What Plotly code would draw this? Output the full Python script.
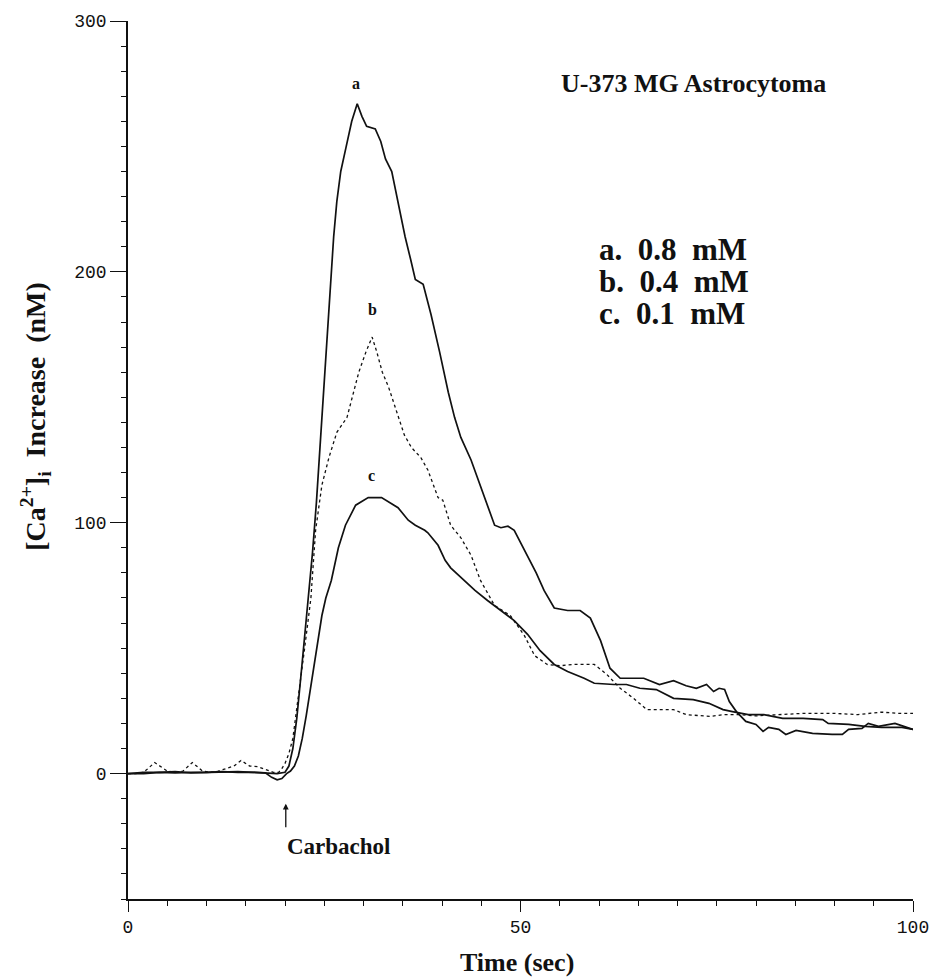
import plotly.graph_objects as go

# ---- data ----
a_t = [0, 2, 4, 6, 8, 10, 12, 14, 16, 18, 19, 20, 20.5, 21, 21.5, 22, 22.5, 23, 23.5, 24, 24.6, 25.2, 25.8,
       26.2, 26.6, 27.1, 27.8, 28.5, 29.2, 29.8, 30.4, 31.5, 32.2, 32.8, 33.6, 34.4, 35.3, 36.0, 36.6, 37.6,
       38.6, 39.7, 40.8, 41.6, 42.4, 43.7, 44.6, 45.6, 46.7, 47.5, 48.4, 49.2, 50.0, 50.9, 52.0, 53, 54.3,
       56, 57.6, 58.9, 60.2, 61.4, 62.7, 64, 65.7, 67.7, 69.5, 71.1, 72.4, 73.7, 74.6, 75.3, 76, 76.6,
       77.5, 78.7, 80, 80.9, 81.6, 82.9, 83.8, 85.1, 87.2, 89.7, 91, 91.8, 93.5, 94.3, 95.6, 97.7, 99, 100]
a_v = [0, 0, 0.5, 0.3, 0.5, 0.5, 0.8, 0.5, 0.5, 0.3, 0, 0.5, 3, 10, 22, 38, 54, 70, 88, 108, 136, 165, 195,
       214, 228, 240, 250, 260, 267, 262, 258, 257, 252, 245, 240, 228, 214, 205, 197, 195,
       183, 168, 152, 142, 134, 125, 117, 109, 99, 98, 98.6, 97, 92, 87, 80, 73, 66,
       65, 65, 62, 53, 42, 38, 38, 38, 35.5, 37, 35, 34, 35.5, 32.7, 34, 33.5, 28.7,
       24.7, 20.8, 19.6, 16.8, 18.4, 17.6, 15.6, 17.2, 16, 15.6, 15.6, 17.6, 18, 20, 18.8, 20, 18.8, 17.6]

b_t = [0, 1, 2, 3.4, 5, 6, 7, 8.2, 9.5, 10.5, 11.5, 12.5, 13.5, 14.4, 15.5, 16.5, 17.5, 18.5, 19.2, 19.6,
       20, 20.5, 21, 21.5, 22, 22.5, 23, 23.3, 23.9, 24.7, 25.6, 26.6, 27.9, 28.6, 29.4, 30.3, 31.1, 31.7,
       32.4, 33.2, 34.4, 35.2, 36.1, 37.3, 38.2, 39.5, 40.1, 41.1, 42.4, 43.7, 44.9, 46.7, 48.7, 50.5,
       51.8, 53.4, 55.1, 56.8, 59.4, 61, 62.7, 64.4, 66.1, 69.5, 71.1, 74.1, 76, 78, 80, 83, 86, 90,
       93, 96, 98, 100]
b_v = [0, 0, 0.5, 4.4, 1, 0.5, 1, 4.4, 1, 0.5, 1, 2, 3, 5.2, 3, 2.8, 1.5, 0.5, 0.5, 2,
       4, 8, 14, 25, 38, 50, 62, 70, 97, 115, 126, 136, 142, 150, 160, 168, 174, 168,
       160, 154, 142, 135, 130, 126, 121, 110, 109, 99, 94, 87, 77, 67, 63, 55,
       47, 43.5, 43, 43.5, 43.5, 39.5, 34, 30, 25.5, 25.5, 23.5, 22.8, 23.5, 23.5, 23, 23.5, 24, 24,
       23.5, 24.5, 24, 24]

c_t = [0, 2, 4, 6, 8, 10, 12, 14, 16, 17.5, 18.3, 19, 19.6, 20.2, 20.7, 21.2, 21.7, 22.2, 22.7, 23.2,
       23.7, 24.2, 24.7, 25.2, 25.9, 26.8, 27.7, 29, 30.6, 32.3, 33.4, 34.4, 35.7, 36.6, 37.8, 38.2,
       39.5, 40.4, 41.1, 42.9, 44.2, 45.8, 47.5, 49.2, 50.9, 52.5, 54.3, 56, 58.1, 59.4, 61.9, 63.5,
       65.2, 67.3, 69.5, 72, 74, 75.8, 77, 79, 81, 83.4, 86, 88.5, 89.2, 91.8, 93.9, 96, 98.6, 100]
c_v = [0, 0.5, 0.5, 0.8, 0.3, 0.5, 0.5, 0.8, 0.5, 0.3, -1.5, -2.5, -2, 0, 1, 3, 7, 14, 23, 33,
       44, 54, 63, 70, 77, 90, 99, 107, 110, 110, 108, 106, 101, 99, 97, 96,
       91, 85, 82, 77, 73, 69, 65, 61, 55.5, 49, 43.5, 40.7, 38, 36, 35.5, 35.5,
       34, 33.5, 30, 29.5, 28, 25.5, 24.7, 23.5, 23.5, 22, 22, 21.5, 20, 19.6, 18.8, 18.4, 18.4, 17.6]

x_ticks = [0, 50, 100]
y_ticks = [0, 100, 200, 300]
curve_labels = ["a", "b", "c"]
legend_lines = ["a.  0.8  mM", "b.  0.4  mM", "c.  0.1  mM"]
title_text = "U-373 MG Astrocytoma"
stim_text = "Carbachol"
x_title = "Time (sec)"
y_title = "[Ca<sup>2+</sup>]<sub>i</sub>  Increase  (nM)"

serif = "Liberation Serif, Times New Roman, serif"
mono = "Liberation Mono, Courier New, monospace"
ink = "#111111"

fig = go.Figure()
fig.add_trace(go.Scatter(x=a_t, y=a_v, mode="lines", line=dict(color=ink, width=1.7), name="a"))
fig.add_trace(go.Scatter(x=b_t, y=b_v, mode="lines", line=dict(color=ink, width=1.3, dash="dot"), name="b"))
fig.add_trace(go.Scatter(x=c_t, y=c_v, mode="lines", line=dict(color=ink, width=1.7), name="c"))

ann = []


def label(x, y, text, size, ref="data", **kw):
    d = dict(x=x, y=y, text=text, showarrow=False, xanchor="center", yanchor="middle",
             font=dict(family=serif, size=size, color=ink))
    if ref == "data":
        d.update(xref="x", yref="y")
    else:
        d.update(xref="paper", yref="paper")
    d.update(kw)
    ann.append(d)


# curve letters above each peak
label(29.0, 275, "<b>" + curve_labels[0] + "</b>", 16)
label(31.1, 185, "<b>" + curve_labels[1] + "</b>", 16)
label(31.0, 119, "<b>" + curve_labels[2] + "</b>", 16)
# title and concentration key
label(72.0, 275, "<b>" + title_text + "</b>", 26)
for i, s in enumerate(legend_lines):
    label(59.7, 209 - i * 12.8, "<b>" + s + "</b>", 31, xanchor="left")
# stimulus marker
label(20.0, -29, "<b>" + stim_text + "</b>", 23, xanchor="left")
ann.append(dict(x=20.1, y=-12, ax=20.1, ay=-22, xref="x", yref="y", axref="x", ayref="y",
                text="", showarrow=True, arrowhead=2, arrowsize=0.9, arrowwidth=1.3, arrowcolor=ink,
                standoff=0))
# axis titles (paper coords, outside the data range)
label(0.496, -0.0718, "<b>" + x_title + "</b>", 26, ref="paper")
label(-0.1177, 0.55, "<b>" + y_title + "</b>", 28, ref="paper", textangle=-90)

fig.update_layout(
    width=941, height=980,
    margin=dict(l=128, r=23, t=21, b=81),
    paper_bgcolor="white", plot_bgcolor="white",
    showlegend=False,
    annotations=ann,
    xaxis=dict(range=[0, 100], tickvals=x_ticks, ticks="outside", ticklen=11, tickwidth=1.3,
               tickcolor=ink, showline=True, linecolor=ink, linewidth=1.5, showgrid=False,
               zeroline=False, tickfont=dict(family=mono, size=18, color=ink),
               minor=dict(dtick=5, ticks="outside", ticklen=5, tickcolor=ink, tickwidth=1.2)),
    yaxis=dict(range=[-50, 300], tickvals=y_ticks, ticks="outside", ticklen=16, tickwidth=1.3,
               tickcolor=ink, showline=True, linecolor=ink, linewidth=1.5, showgrid=False,
               zeroline=False, tickfont=dict(family=mono, size=18, color=ink),
               minor=dict(dtick=10, ticks="outside", ticklen=5, tickcolor=ink, tickwidth=1.2)),
)

fig.write_html("out.html")
